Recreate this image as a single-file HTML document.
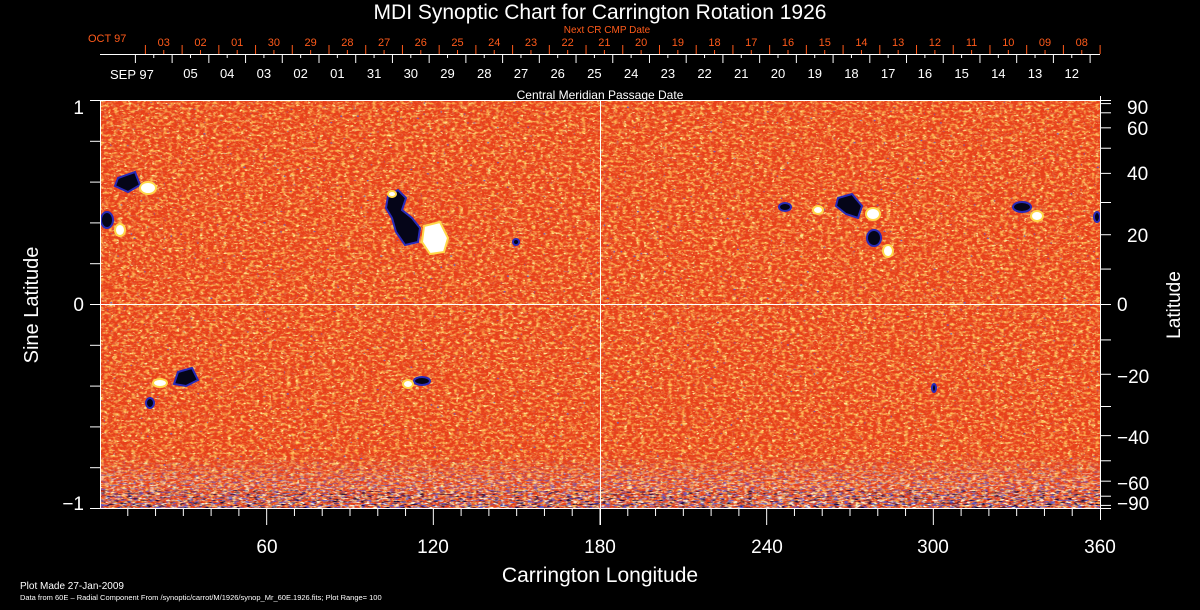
<!DOCTYPE html>
<html><head><meta charset="utf-8"><style>
html,body{margin:0;padding:0;background:#000;}
svg{display:block;}
text{font-family:"Liberation Sans",sans-serif;}
</style></head><body>
<svg id="s" width="1200" height="610" viewBox="0 0 1200 610" xmlns="http://www.w3.org/2000/svg">
<defs>
<filter id="or" x="0" y="0" width="100%" height="100%">
<feTurbulence type="fractalNoise" baseFrequency="0.22 0.38" numOctaves="2" seed="3"/>
<feColorMatrix type="matrix" values="0 0 0 0 1  0 0 0 0 0.52  0 0 0 0 0.1  3 0 0 0 -1.35"/>
</filter>
<filter id="ye" x="0" y="0" width="100%" height="100%">
<feTurbulence type="fractalNoise" baseFrequency="0.25 0.4" numOctaves="2" seed="11"/>
<feColorMatrix type="matrix" values="0 0 0 0 1  0 0 0 0 0.85  0 0 0 0 0.3  5 0 0 0 -3.1"/>
</filter>
<filter id="rd" x="0" y="0" width="100%" height="100%">
<feTurbulence type="fractalNoise" baseFrequency="0.25 0.4" numOctaves="2" seed="21"/>
<feColorMatrix type="matrix" values="0 0 0 0 0.75  0 0 0 0 0.12  0 0 0 0 0.05  4 0 0 0 -2.3"/>
</filter>
<filter id="bl" x="0" y="0" width="100%" height="100%">
<feTurbulence type="fractalNoise" baseFrequency="0.3 0.45" numOctaves="1" seed="7"/>
<feColorMatrix type="matrix" values="0 0 0 0 0.12  0 0 0 0 0.1  0 0 0 0 0.6  8 0 0 0 -5.6"/>
</filter>
<filter id="blh" x="0" y="0" width="100%" height="100%">
<feTurbulence type="fractalNoise" baseFrequency="0.18 0.6" numOctaves="2" seed="5"/>
<feColorMatrix type="matrix" values="0 0 0 0 0.1  0 0 0 0 0.1  0 0 0 0 0.7  5 0 0 0 -2.5"/>
</filter>
<filter id="wh" x="0" y="0" width="100%" height="100%">
<feTurbulence type="fractalNoise" baseFrequency="0.18 0.6" numOctaves="2" seed="9"/>
<feColorMatrix type="matrix" values="0 0 0 0 1  0 0 0 0 1  0 0 0 0 0.8  5 0 0 0 -2.6"/>
</filter>
<filter id="bk" x="0" y="0" width="100%" height="100%">
<feTurbulence type="fractalNoise" baseFrequency="0.15 0.7" numOctaves="2" seed="13"/>
<feColorMatrix type="matrix" values="0 0 0 0 0  0 0 0 0 0  0 0 0 0 0.05  5 0 0 0 -2.8"/>
</filter>
<linearGradient id="fade" x1="0" y1="0" x2="0" y2="1">
<stop offset="0" stop-color="#fff" stop-opacity="0"/>
<stop offset="0.45" stop-color="#fff" stop-opacity="0.55"/>
<stop offset="1" stop-color="#fff" stop-opacity="1"/>
</linearGradient>
<mask id="m"><rect x="100" y="455" width="1000" height="54" fill="url(#fade)"/></mask>
</defs>
<rect x="100" y="100" width="1000" height="409" fill="#e8401a"/>
<rect x="100" y="100" width="1000" height="409" filter="url(#or)"/>
<rect x="100" y="100" width="1000" height="409" filter="url(#rd)"/>
<rect x="100" y="100" width="1000" height="409" filter="url(#ye)"/>
<rect x="100" y="100" width="1000" height="409" filter="url(#bl)"/>
<g mask="url(#m)">
<rect x="100" y="455" width="1000" height="54" filter="url(#blh)"/>
<rect x="100" y="455" width="1000" height="54" filter="url(#wh)"/>
<rect x="100" y="490" width="1000" height="19" filter="url(#bk)"/>
</g>
<!-- spots -->
<g fill="#050518" stroke="#2a2ab8" stroke-width="2">
<path d="M118 178 L135 172 L140 185 L128 192 L115 186Z"/>
<ellipse cx="107" cy="220" rx="6" ry="8"/>
<path d="M388 196 L398 190 L406 198 L402 210 L412 218 L420 228 L418 242 L405 245 L396 232 L392 218 L386 208Z"/>
<ellipse cx="516" cy="242" rx="3" ry="3"/>
<path d="M178 372 L192 368 L198 380 L186 386 L174 384Z"/>
<ellipse cx="150" cy="403" rx="4" ry="5"/>
<ellipse cx="422" cy="381" rx="8" ry="4"/>
<path d="M838 198 L852 194 L862 206 L858 218 L846 214 L836 206Z"/>
<ellipse cx="874" cy="238" rx="7" ry="8"/>
<ellipse cx="785" cy="207" rx="6" ry="4"/>
<ellipse cx="1022" cy="207" rx="9" ry="5"/>
<ellipse cx="1097" cy="217" rx="3" ry="5"/>
<ellipse cx="934" cy="388" rx="2" ry="4"/>
</g>
<g fill="#fff" stroke="#ffd84a" stroke-width="2">
<ellipse cx="148" cy="188" rx="8" ry="6"/>
<ellipse cx="120" cy="230" rx="5" ry="6"/>
<path d="M424 226 L440 222 L448 238 L444 252 L430 254 L422 242Z"/>
<ellipse cx="392" cy="194" rx="4" ry="3"/>
<ellipse cx="160" cy="383" rx="7" ry="4"/>
<ellipse cx="408" cy="384" rx="5" ry="4"/>
<ellipse cx="873" cy="214" rx="7" ry="6"/>
<ellipse cx="888" cy="251" rx="5" ry="6"/>
<ellipse cx="818" cy="210" rx="5" ry="4"/>
<ellipse cx="1037" cy="216" rx="6" ry="5"/>
</g>
<!-- frame and center lines -->
<g stroke="#fff" stroke-width="1" fill="none">
<line x1="90" y1="100.5" x2="1100" y2="100.5"/>
<line x1="90" y1="508.5" x2="1110" y2="508.5"/>
<line x1="100.5" y1="100" x2="100.5" y2="509"/>
<line x1="1100.5" y1="96" x2="1100.5" y2="520"/>
<line x1="100" y1="304.5" x2="1110" y2="304.5"/>
<line x1="600.5" y1="100" x2="600.5" y2="525"/>
<line x1="100" y1="54.5" x2="1100" y2="54.5"/>
</g>
<g id="ticks"></g>
<g fill="#fff" font-size="19">
<text x="600" y="19" text-anchor="middle" font-size="21">MDI Synoptic Chart for Carrington Rotation 1926</text>
<text x="607" y="33" text-anchor="middle" font-size="10" fill="#ff5a1a">Next CR CMP Date</text>
<text x="88" y="42" font-size="11" fill="#ff5a1a">OCT 97</text>
<text x="110" y="79" font-size="13">SEP 97</text>
<text x="600" y="99" text-anchor="middle" font-size="12">Central Meridian Passage Date</text>
<text x="84" y="114" text-anchor="end">1</text>
<text x="84" y="311" text-anchor="end">0</text>
<text x="84" y="510" text-anchor="end">−1</text>
<text transform="translate(38,305) rotate(-90)" text-anchor="middle" font-size="20">Sine Latitude</text>
<text transform="translate(1180,305) rotate(-90)" text-anchor="middle" font-size="19">Latitude</text>
<text x="1127" y="114">90</text>
<text x="1127" y="135">60</text>
<text x="1127" y="180">40</text>
<text x="1127" y="242">20</text>
<text x="1117" y="311">0</text>
<text x="1117" y="383">−20</text>
<text x="1117" y="444">−40</text>
<text x="1117" y="490">−60</text>
<text x="1117" y="510">−90</text>
<text x="267" y="553" text-anchor="middle">60</text>
<text x="433" y="553" text-anchor="middle">120</text>
<text x="600" y="553" text-anchor="middle">180</text>
<text x="767" y="553" text-anchor="middle">240</text>
<text x="933" y="553" text-anchor="middle">300</text>
<text x="1100" y="553" text-anchor="middle">360</text>
<text x="600" y="582" text-anchor="middle" font-size="21">Carrington Longitude</text>
<text x="20" y="589" font-size="10">Plot Made 27-Jan-2009</text>
<text x="20" y="600" font-size="7.5">Data from 60E – Radial Component From /synoptic/carrot/M/1926/synop_Mr_60E.1926.fits; Plot Range=  100</text>
</g>
<g id="lbl" font-size="12"></g>
</svg>
<script>
var NS="http://www.w3.org/2000/svg",t=document.getElementById("ticks"),L=document.getElementById("lbl");
function ln(x1,y1,x2,y2,c){var e=document.createElementNS(NS,"line");e.setAttribute("x1",x1);e.setAttribute("y1",y1);e.setAttribute("x2",x2);e.setAttribute("y2",y2);e.setAttribute("stroke",c||"#fff");t.appendChild(e);}
function tx(x,y,s,c,fs){var e=document.createElementNS(NS,"text");e.setAttribute("x",x);e.setAttribute("y",y);e.setAttribute("text-anchor","middle");e.setAttribute("fill",c);e.setAttribute("font-size",fs);e.textContent=s;L.appendChild(e);}
var sp=36.72;
var wl=["05","04","03","02","01","31","30","29","28","27","26","25","24","23","22","21","20","19","18","17","16","15","14","13","12"];
for(var i=0;i<=26;i++){var x=135.4+i*sp;ln(x,54,x,63);if(i<26){ln(x+sp/2,54,x+sp/2,58);}}
for(var i=1;i<=25;i++){tx(135.4+(i+0.5)*sp,78,wl[i-1],"#fff",13);}
var ol=["03","02","01","30","29","28","27","26","25","24","23","22","21","20","19","18","17","16","15","14","13","12","11","10","09","08"];
for(var i=0;i<=26;i++){var x=145.4+i*sp;ln(x,45,x,54,"#ff5a1a");if(i<26){ln(x+sp/2,50,x+sp/2,54,"#ff5a1a");}}
for(var i=0;i<26;i++){tx(145.4+(i+0.5)*sp,46,ol[i],"#ff5a1a",11);}
for(var d=10;d<360;d+=10){var x=100+d*1000/360;ln(x,509,x,d%60==0?525:516);}
for(var k=0;k<=10;k++){var y=100.5+k*40.8;ln(90,y,100,y);}
for(var a=-90;a<=90;a+=10){var y=304.5-204*Math.sin(a*Math.PI/180);ln(1100,y,1111,y);}
</script>
</body></html>
